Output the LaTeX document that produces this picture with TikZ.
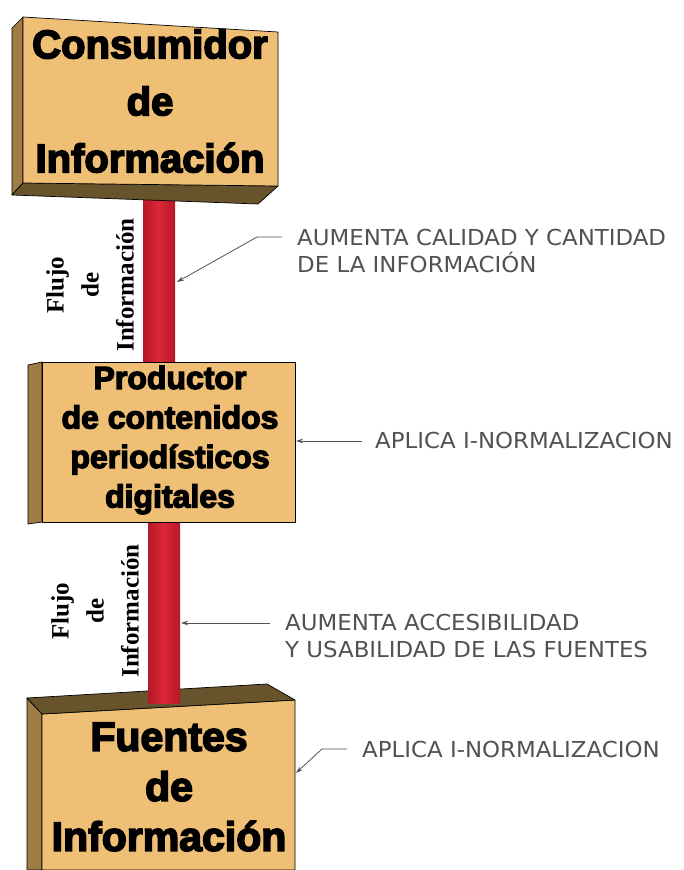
\documentclass[tikz,border=0pt]{standalone}
\usepackage{fontspec}
\setmainfont{Liberation Serif}
\newfontfamily\boxfont{Liberation Sans Bold}[FakeBold=4]
\newfontfamily\notefont{DejaVu Sans}[FakeStretch=1.04]
\usetikzlibrary{arrows.meta}
\definecolor{FaceTan}{RGB}{238,191,116}
\definecolor{SideTan}{RGB}{158,124,68}
\definecolor{BaseBrown}{RGB}{104,84,44}
\definecolor{PoleRed}{RGB}{220,38,54}
\definecolor{PoleDark}{RGB}{180,24,40}
\definecolor{NoteGray}{RGB}{82,82,82}

\begin{document}
\begin{tikzpicture}[x=1pt,y=-1pt,
  frontface/.style={fill=FaceTan,draw=black,line width=0.7pt,line join=round},
  sideface/.style={fill=SideTan,draw=black,line width=0.7pt,line join=round},
  bottomface/.style={fill=BaseBrown,draw=black,line width=0.7pt,line join=round},
  pole/.style={left color=PoleDark,right color=PoleDark,middle color=PoleRed},
  boxtitle/.style={align=center,inner sep=0pt},
  flowlabel/.style={font=\bfseries\fontsize{25}{35}\selectfont,align=center,rotate=90,inner sep=0pt},
  notetext/.style={font=\notefont\fontsize{22}{27}\selectfont,text=NoteGray,align=left,anchor=north west,inner sep=0pt},
  pointer/.style={draw=NoteGray,line width=0.8pt,-{Stealth[length=7pt,width=4.5pt]}}]
  \useasboundingbox (0,0) rectangle (683,870);
  \fill[white] (0,0) rectangle (683,870);
  % fuentes
  \filldraw[sideface] (27,698) -- (42,714) -- (42,870) -- (27,870) -- cycle;
  \filldraw[frontface] (42,714) -- (295,700) -- (295,870) -- (42,870) -- cycle;
  \filldraw[bottomface] (27,698) -- (267,684) -- (295,700) -- (42,714) -- cycle;
  \shade[pole] (148,515) rectangle (180,703);
  \shade[pole] (143,180) rectangle (175,368);
  % consumidor
  \filldraw[sideface] (12,28) -- (23,17) -- (23,183) -- (12,195) -- cycle;
  \filldraw[bottomface] (23,183) -- (278,186) -- (258,204) -- (12,195) -- cycle;
  \filldraw[frontface] (23,17) -- (278,32) -- (278,186) -- (23,183) -- cycle;
  % productor
  \filldraw[sideface] (28,365) -- (42,362) -- (42,522) -- (28,524) -- cycle;
  \filldraw[frontface] (42,362) rectangle (295,522);

  \node[boxtitle,font=\boxfont\fontsize{40}{57}\selectfont] (cons) at (150,101) {Consumidor\\de\\Información};
  \node[boxtitle,font=\boxfont\fontsize{32}{39.5}\selectfont] (prod) at (170,440) {Productor\\de contenidos\\periodísticos\\digitales};
  \node[boxtitle,font=\boxfont\fontsize{41}{50}\selectfont] (fuen) at (169,787) {Fuentes\\de\\Información};

  \node[flowlabel] (flujoA) at (90,285) {Flujo\\de\\Información};
  \node[flowlabel] (flujoB) at (95,611) {Flujo\\de\\Información};

  \node[notetext] (calidad) at (297,229) {AUMENTA CALIDAD Y CANTIDAD\\DE LA INFORMACIÓN};
  \node[notetext] (normA) at (375,432) {APLICA I-NORMALIZACION};
  \node[notetext] (acceso) at (285,614) {AUMENTA ACCESIBILIDAD\\Y USABILIDAD DE LAS FUENTES};
  \node[notetext] (normB) at (362,741) {APLICA I-NORMALIZACION};

  \coordinate (calidadtip) at (177,282);
  \coordinate (normAtip) at (296,441);
  \coordinate (accesotip) at (181,623);
  \coordinate (normBtip) at (296,773);
  \draw[pointer] ([xshift=-15pt,yshift=-8pt]calidad.north west) -- ++(-25,0) -- (calidadtip);
  \draw[pointer] ([xshift=-13pt,yshift=-9pt]normA.north west) -- (normAtip);
  \draw[pointer] ([xshift=-15pt,yshift=-9pt]acceso.north west) -- (accesotip);
  \draw[pointer] ([xshift=-15pt,yshift=-8pt]normB.north west) -- ++(-25,0) -- (normBtip);
\end{tikzpicture}
\end{document}
